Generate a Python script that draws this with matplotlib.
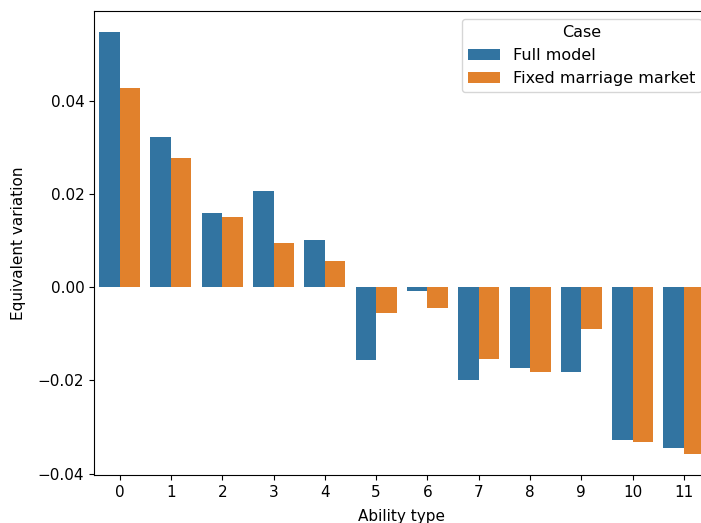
import matplotlib
matplotlib.use("Agg")
import matplotlib.pyplot as plt
import pandas as pd
import seaborn as sns

ability_types = list(range(12))
full_model = [0.0548, 0.0323, 0.0160, 0.0207, 0.0102, -0.0156, -0.0007,
              -0.0200, -0.0174, -0.0181, -0.0327, -0.0346]
fixed_market = [0.0428, 0.0278, 0.0151, 0.0095, 0.0057, -0.0056, -0.0045,
                -0.0153, -0.0181, -0.0090, -0.0333, -0.0359]
cases = ["Full model", "Fixed marriage market"]

df = pd.DataFrame({
    "Ability type": ability_types * 2,
    "Equivalent variation": full_model + fixed_market,
    "Case": [cases[0]] * 12 + [cases[1]] * 12,
})

plt.rcParams["font.size"] = 11

fig = plt.figure(figsize=(7.01, 5.23), dpi=100)
ax = fig.add_axes([0.1341, 0.0918, 0.8782, 0.8877])
sns.barplot(data=df, x="Ability type", y="Equivalent variation", hue="Case",
            hue_order=cases, ax=ax)
ax.set_ylim(-0.0403, 0.0594)
ax.set_xlim(-0.5, 11.5)
ax.set_xlabel("Ability type", labelpad=7)
ax.set_ylabel("Equivalent variation", labelpad=8.5)
ax.legend(title="Case", loc="upper right", fontsize=11.5, title_fontsize=11.5)

fig.savefig("out.png", dpi=100)
